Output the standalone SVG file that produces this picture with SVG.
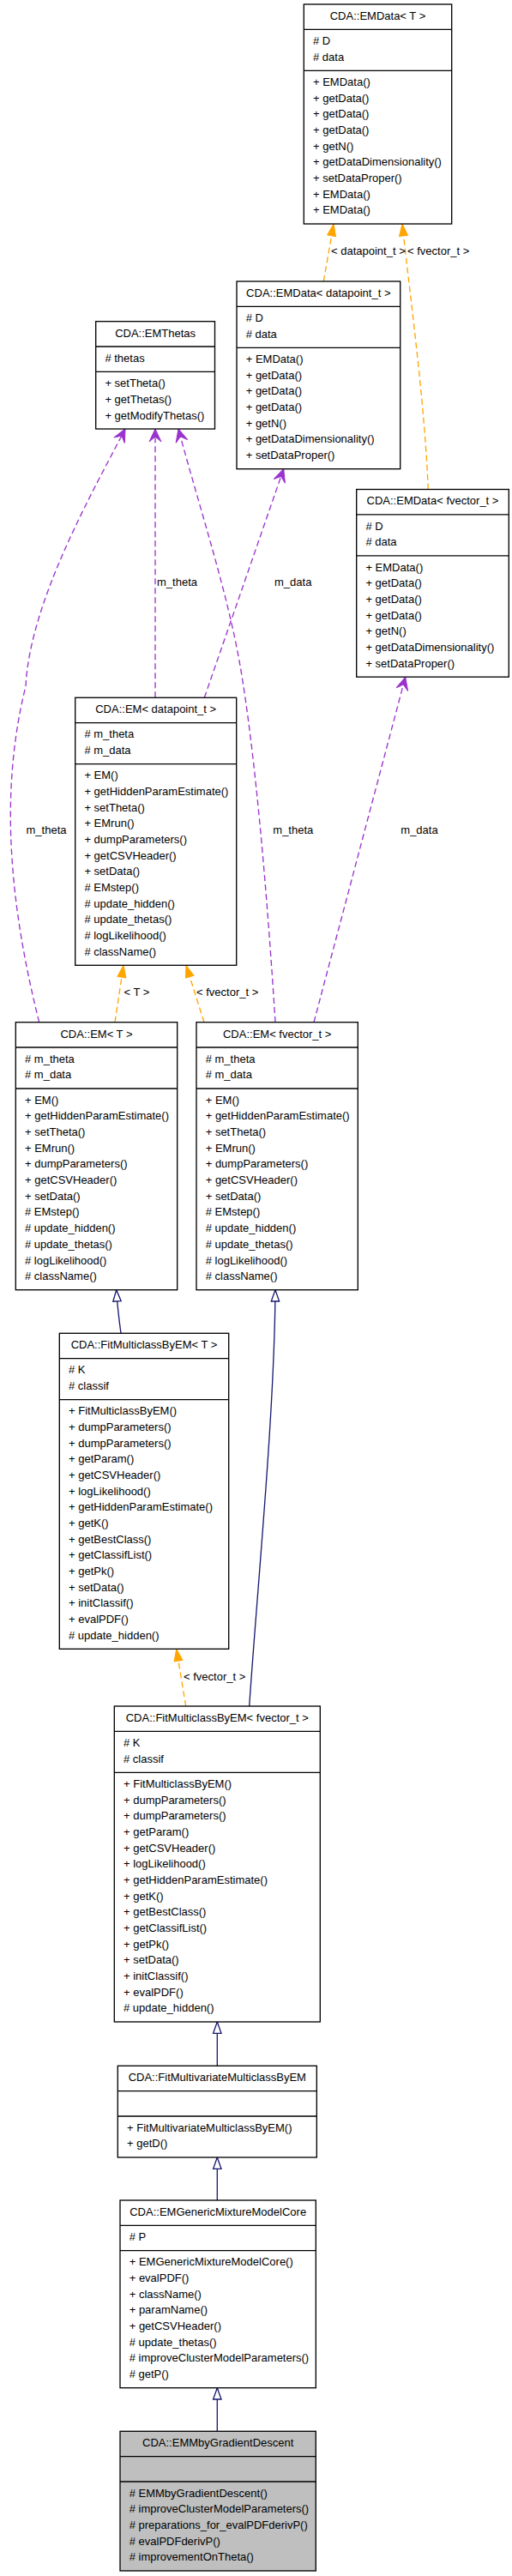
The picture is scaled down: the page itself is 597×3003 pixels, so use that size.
<svg xmlns="http://www.w3.org/2000/svg" width="597" height="3003" viewBox="0 0 597 3003">
<style>
text{font-family:"Liberation Sans",Arial,Helvetica,sans-serif;font-size:13px;fill:#000}
.t{text-anchor:middle}
.box{fill:#fff;stroke:#000;stroke-width:1.33}
.cur{fill:#bfbfbf;stroke:#000;stroke-width:1.33}
.sep{stroke:#000;stroke-width:1.33}
.e{fill:none;stroke-width:1.33}
.tmpl{stroke:#ffa500;stroke-dasharray:7,4}
.use{stroke:#9a32cd;stroke-dasharray:7,4}
.inh{stroke:#191970}
</style>
<defs>
<marker id="aO" markerUnits="userSpaceOnUse" viewBox="-16 -7 17 14" refX="0" refY="0" markerWidth="17" markerHeight="14" orient="auto"><polygon points="0,0 -14,-5 -14,5" fill="#ffa500" stroke="#ffa500" stroke-width="1"/></marker>
<marker id="aP" markerUnits="userSpaceOnUse" viewBox="-17 -9 18 18" refX="0" refY="0" markerWidth="18" markerHeight="18" orient="auto"><polygon points="0,0 -15,-7 -9,0 -15,7" fill="#9a32cd" stroke="#9a32cd" stroke-width="1"/></marker>
<marker id="aN" markerUnits="userSpaceOnUse" viewBox="-15 -7 16 14" refX="0" refY="0" markerWidth="16" markerHeight="14" orient="auto"><polygon points="0,0 -13.3,-4.7 -13.3,4.7" fill="#fff" stroke="#191970" stroke-width="1.33"/></marker>
</defs>

<g id="edges">
<path class="e tmpl" d="M377.3,328 L389,261" marker-end="url(#aO)"/>
<path class="e tmpl" d="M499.3,570.5 C495,470 480,360 469,261" marker-end="url(#aO)"/>
<path class="e use" d="M181,813.3 L181,500" marker-end="url(#aP)"/>
<path class="e use" d="M45.7,1191.7 C10,1050 0,920 30,800 C35,700 110,570 146,500" marker-end="url(#aP)"/>
<path class="e use" d="M321,1191.7 C312,1050 298,880 280,776 C265,690 235,600 208,500" marker-end="url(#aP)"/>
<path class="e use" d="M238.3,813.3 L330.7,546.7" marker-end="url(#aP)"/>
<path class="e use" d="M366,1191.7 L472.7,789.2" marker-end="url(#aP)"/>
<path class="e tmpl" d="M134,1191.7 L144,1125.3" marker-end="url(#aO)"/>
<path class="e tmpl" d="M238,1191.7 L217,1125.3" marker-end="url(#aO)"/>
<path class="e inh" d="M141,1554.3 C139,1540 137,1525 135.7,1503.7" marker-end="url(#aN)"/>
<path class="e inh" d="M290.7,1989 C300,1850 320,1650 321,1503.7" marker-end="url(#aN)"/>
<path class="e tmpl" d="M216.7,1989 L205.7,1922.3" marker-end="url(#aO)"/>
<path class="e inh" d="M253.3,2408.3 L253.3,2357" marker-end="url(#aN)"/>
<path class="e inh" d="M253.3,2565 L253.3,2515" marker-end="url(#aN)"/>
<path class="e inh" d="M253.3,2834.3 L253.3,2783.7" marker-end="url(#aN)"/>
<text x="386" y="297">&lt; datapoint_t &gt;</text>
<text x="475" y="297">&lt; fvector_t &gt;</text>
<text x="183" y="683">m_theta</text>
<text x="320" y="683">m_data</text>
<text x="30.5" y="972">m_theta</text>
<text x="318.3" y="972">m_theta</text>
<text x="467.3" y="972">m_data</text>
<text x="144.5" y="1161">&lt; T &gt;</text>
<text x="229" y="1161">&lt; fvector_t &gt;</text>
<text x="214" y="1959">&lt; fvector_t &gt;</text>
</g>

<g id="EMData_T">
<rect class="box" x="354.3" y="5" width="172.4" height="256"/>
<line class="sep" x1="354.3" y1="34.33" x2="526.7" y2="34.33"/>
<line class="sep" x1="354.3" y1="82.33" x2="526.7" y2="82.33"/>
<text class="t" x="440.5" y="22.8">CDA::EMData&lt; T &gt;</text>
<text x="365" y="52.13"><tspan x="365"># D</tspan><tspan x="365" dy="18.667"># data</tspan></text>
<text x="365" y="100.13"><tspan x="365">+ EMData()</tspan><tspan x="365" dy="18.667">+ getData()</tspan><tspan x="365" dy="18.667">+ getData()</tspan><tspan x="365" dy="18.667">+ getData()</tspan><tspan x="365" dy="18.667">+ getN()</tspan><tspan x="365" dy="18.667">+ getDataDimensionality()</tspan><tspan x="365" dy="18.667">+ setDataProper()</tspan><tspan x="365" dy="18.667">+ EMData()</tspan><tspan x="365" dy="18.667">+ EMData()</tspan></text>
</g>

<g id="EMData_datapoint">
<rect class="box" x="276" y="328" width="190.7" height="218.67"/>
<line class="sep" x1="276" y1="357.33" x2="466.7" y2="357.33"/>
<line class="sep" x1="276" y1="405.33" x2="466.7" y2="405.33"/>
<text class="t" x="371.3" y="345.8">CDA::EMData&lt; datapoint_t &gt;</text>
<text x="286.7" y="375.13"><tspan x="286.7"># D</tspan><tspan x="286.7" dy="18.667"># data</tspan></text>
<text x="286.7" y="423.13"><tspan x="286.7">+ EMData()</tspan><tspan x="286.7" dy="18.667">+ getData()</tspan><tspan x="286.7" dy="18.667">+ getData()</tspan><tspan x="286.7" dy="18.667">+ getData()</tspan><tspan x="286.7" dy="18.667">+ getN()</tspan><tspan x="286.7" dy="18.667">+ getDataDimensionality()</tspan><tspan x="286.7" dy="18.667">+ setDataProper()</tspan></text>
</g>

<g id="EMData_fvector">
<rect class="box" x="415.7" y="570.5" width="177.6" height="218.67"/>
<line class="sep" x1="415.7" y1="599.83" x2="593.3" y2="599.83"/>
<line class="sep" x1="415.7" y1="647.83" x2="593.3" y2="647.83"/>
<text class="t" x="504.5" y="588.3">CDA::EMData&lt; fvector_t &gt;</text>
<text x="426.4" y="617.63"><tspan x="426.4"># D</tspan><tspan x="426.4" dy="18.667"># data</tspan></text>
<text x="426.4" y="665.63"><tspan x="426.4">+ EMData()</tspan><tspan x="426.4" dy="18.667">+ getData()</tspan><tspan x="426.4" dy="18.667">+ getData()</tspan><tspan x="426.4" dy="18.667">+ getData()</tspan><tspan x="426.4" dy="18.667">+ getN()</tspan><tspan x="426.4" dy="18.667">+ getDataDimensionality()</tspan><tspan x="426.4" dy="18.667">+ setDataProper()</tspan></text>
</g>

<g id="EMThetas">
<rect class="box" x="111.7" y="374.7" width="138.8" height="125.33"/>
<line class="sep" x1="111.7" y1="404.03" x2="250.5" y2="404.03"/>
<line class="sep" x1="111.7" y1="433.37" x2="250.5" y2="433.37"/>
<text class="t" x="181.1" y="392.5">CDA::EMThetas</text>
<text x="122.4" y="421.83"># thetas</text>
<text x="122.4" y="451.17"><tspan x="122.4">+ setTheta()</tspan><tspan x="122.4" dy="18.667">+ getThetas()</tspan><tspan x="122.4" dy="18.667">+ getModifyThetas()</tspan></text>
</g>

<g id="EM_datapoint">
<rect class="box" x="87.7" y="813.3" width="188" height="312"/>
<line class="sep" x1="87.7" y1="842.63" x2="275.7" y2="842.63"/>
<line class="sep" x1="87.7" y1="890.63" x2="275.7" y2="890.63"/>
<text class="t" x="181.7" y="831.1">CDA::EM&lt; datapoint_t &gt;</text>
<text x="98.4" y="860.43"><tspan x="98.4"># m_theta</tspan><tspan x="98.4" dy="18.667"># m_data</tspan></text>
<text x="98.4" y="908.43"><tspan x="98.4">+ EM()</tspan><tspan x="98.4" dy="18.667">+ getHiddenParamEstimate()</tspan><tspan x="98.4" dy="18.667">+ setTheta()</tspan><tspan x="98.4" dy="18.667">+ EMrun()</tspan><tspan x="98.4" dy="18.667">+ dumpParameters()</tspan><tspan x="98.4" dy="18.667">+ getCSVHeader()</tspan><tspan x="98.4" dy="18.667">+ setData()</tspan><tspan x="98.4" dy="18.667"># EMstep()</tspan><tspan x="98.4" dy="18.667"># update_hidden()</tspan><tspan x="98.4" dy="18.667"># update_thetas()</tspan><tspan x="98.4" dy="18.667"># logLikelihood()</tspan><tspan x="98.4" dy="18.667"># className()</tspan></text>
</g>

<g id="EM_T">
<rect class="box" x="18.3" y="1191.7" width="188.4" height="312"/>
<line class="sep" x1="18.3" y1="1221.03" x2="206.7" y2="1221.03"/>
<line class="sep" x1="18.3" y1="1269.03" x2="206.7" y2="1269.03"/>
<text class="t" x="112.5" y="1209.5">CDA::EM&lt; T &gt;</text>
<text x="29" y="1238.83"><tspan x="29"># m_theta</tspan><tspan x="29" dy="18.667"># m_data</tspan></text>
<text x="29" y="1286.83"><tspan x="29">+ EM()</tspan><tspan x="29" dy="18.667">+ getHiddenParamEstimate()</tspan><tspan x="29" dy="18.667">+ setTheta()</tspan><tspan x="29" dy="18.667">+ EMrun()</tspan><tspan x="29" dy="18.667">+ dumpParameters()</tspan><tspan x="29" dy="18.667">+ getCSVHeader()</tspan><tspan x="29" dy="18.667">+ setData()</tspan><tspan x="29" dy="18.667"># EMstep()</tspan><tspan x="29" dy="18.667"># update_hidden()</tspan><tspan x="29" dy="18.667"># update_thetas()</tspan><tspan x="29" dy="18.667"># logLikelihood()</tspan><tspan x="29" dy="18.667"># className()</tspan></text>
</g>

<g id="EM_fvector">
<rect class="box" x="229" y="1191.7" width="188.3" height="312"/>
<line class="sep" x1="229" y1="1221.03" x2="417.3" y2="1221.03"/>
<line class="sep" x1="229" y1="1269.03" x2="417.3" y2="1269.03"/>
<text class="t" x="323.2" y="1209.5">CDA::EM&lt; fvector_t &gt;</text>
<text x="239.7" y="1238.83"><tspan x="239.7"># m_theta</tspan><tspan x="239.7" dy="18.667"># m_data</tspan></text>
<text x="239.7" y="1286.83"><tspan x="239.7">+ EM()</tspan><tspan x="239.7" dy="18.667">+ getHiddenParamEstimate()</tspan><tspan x="239.7" dy="18.667">+ setTheta()</tspan><tspan x="239.7" dy="18.667">+ EMrun()</tspan><tspan x="239.7" dy="18.667">+ dumpParameters()</tspan><tspan x="239.7" dy="18.667">+ getCSVHeader()</tspan><tspan x="239.7" dy="18.667">+ setData()</tspan><tspan x="239.7" dy="18.667"># EMstep()</tspan><tspan x="239.7" dy="18.667"># update_hidden()</tspan><tspan x="239.7" dy="18.667"># update_thetas()</tspan><tspan x="239.7" dy="18.667"># logLikelihood()</tspan><tspan x="239.7" dy="18.667"># className()</tspan></text>
</g>

<g id="FitMulticlassByEM_T">
<rect class="box" x="69.3" y="1554.3" width="197.4" height="368"/>
<line class="sep" x1="69.3" y1="1583.63" x2="266.7" y2="1583.63"/>
<line class="sep" x1="69.3" y1="1631.63" x2="266.7" y2="1631.63"/>
<text class="t" x="168" y="1572.1">CDA::FitMulticlassByEM&lt; T &gt;</text>
<text x="80" y="1601.43"><tspan x="80"># K</tspan><tspan x="80" dy="18.667"># classif</tspan></text>
<text x="80" y="1649.43"><tspan x="80">+ FitMulticlassByEM()</tspan><tspan x="80" dy="18.667">+ dumpParameters()</tspan><tspan x="80" dy="18.667">+ dumpParameters()</tspan><tspan x="80" dy="18.667">+ getParam()</tspan><tspan x="80" dy="18.667">+ getCSVHeader()</tspan><tspan x="80" dy="18.667">+ logLikelihood()</tspan><tspan x="80" dy="18.667">+ getHiddenParamEstimate()</tspan><tspan x="80" dy="18.667">+ getK()</tspan><tspan x="80" dy="18.667">+ getBestClass()</tspan><tspan x="80" dy="18.667">+ getClassifList()</tspan><tspan x="80" dy="18.667">+ getPk()</tspan><tspan x="80" dy="18.667">+ setData()</tspan><tspan x="80" dy="18.667">+ initClassif()</tspan><tspan x="80" dy="18.667">+ evalPDF()</tspan><tspan x="80" dy="18.667"># update_hidden()</tspan></text>
</g>

<g id="FitMulticlassByEM_fvector">
<rect class="box" x="133.3" y="1989" width="240" height="368"/>
<line class="sep" x1="133.3" y1="2018.33" x2="373.3" y2="2018.33"/>
<line class="sep" x1="133.3" y1="2066.33" x2="373.3" y2="2066.33"/>
<text class="t" x="253.3" y="2006.8">CDA::FitMulticlassByEM&lt; fvector_t &gt;</text>
<text x="144" y="2036.13"><tspan x="144"># K</tspan><tspan x="144" dy="18.667"># classif</tspan></text>
<text x="144" y="2084.13"><tspan x="144">+ FitMulticlassByEM()</tspan><tspan x="144" dy="18.667">+ dumpParameters()</tspan><tspan x="144" dy="18.667">+ dumpParameters()</tspan><tspan x="144" dy="18.667">+ getParam()</tspan><tspan x="144" dy="18.667">+ getCSVHeader()</tspan><tspan x="144" dy="18.667">+ logLikelihood()</tspan><tspan x="144" dy="18.667">+ getHiddenParamEstimate()</tspan><tspan x="144" dy="18.667">+ getK()</tspan><tspan x="144" dy="18.667">+ getBestClass()</tspan><tspan x="144" dy="18.667">+ getClassifList()</tspan><tspan x="144" dy="18.667">+ getPk()</tspan><tspan x="144" dy="18.667">+ setData()</tspan><tspan x="144" dy="18.667">+ initClassif()</tspan><tspan x="144" dy="18.667">+ evalPDF()</tspan><tspan x="144" dy="18.667"># update_hidden()</tspan></text>
</g>

<g id="FitMultivariateMulticlassByEM">
<rect class="box" x="137.3" y="2408.3" width="232" height="106.67"/>
<line class="sep" x1="137.3" y1="2437.63" x2="369.3" y2="2437.63"/>
<line class="sep" x1="137.3" y1="2466.97" x2="369.3" y2="2466.97"/>
<text class="t" x="253.3" y="2426.1">CDA::FitMultivariateMulticlassByEM</text>
<text x="148" y="2484.77"><tspan x="148">+ FitMultivariateMulticlassByEM()</tspan><tspan x="148" dy="18.667">+ getD()</tspan></text>
</g>

<g id="EMGenericMixtureModelCore">
<rect class="box" x="140" y="2565" width="228.3" height="218.67"/>
<line class="sep" x1="140" y1="2594.33" x2="368.3" y2="2594.33"/>
<line class="sep" x1="140" y1="2623.67" x2="368.3" y2="2623.67"/>
<text class="t" x="254.2" y="2582.8">CDA::EMGenericMixtureModelCore</text>
<text x="150.7" y="2612.13"># P</text>
<text x="150.7" y="2641.47"><tspan x="150.7">+ EMGenericMixtureModelCore()</tspan><tspan x="150.7" dy="18.667">+ evalPDF()</tspan><tspan x="150.7" dy="18.667">+ className()</tspan><tspan x="150.7" dy="18.667">+ paramName()</tspan><tspan x="150.7" dy="18.667">+ getCSVHeader()</tspan><tspan x="150.7" dy="18.667"># update_thetas()</tspan><tspan x="150.7" dy="18.667"># improveClusterModelParameters()</tspan><tspan x="150.7" dy="18.667"># getP()</tspan></text>
</g>

<g id="EMMbyGradientDescent">
<rect class="cur" x="140" y="2834.3" width="228.3" height="162.67"/>
<line class="sep" x1="140" y1="2863.63" x2="368.3" y2="2863.63"/>
<line class="sep" x1="140" y1="2892.97" x2="368.3" y2="2892.97"/>
<text class="t" x="254.2" y="2852.1">CDA::EMMbyGradientDescent</text>
<text x="150.7" y="2910.77"><tspan x="150.7"># EMMbyGradientDescent()</tspan><tspan x="150.7" dy="18.667"># improveClusterModelParameters()</tspan><tspan x="150.7" dy="18.667"># preparations_for_evalPDFderivP()</tspan><tspan x="150.7" dy="18.667"># evalPDFderivP()</tspan><tspan x="150.7" dy="18.667"># improvementOnTheta()</tspan></text>
</g>
</svg>
